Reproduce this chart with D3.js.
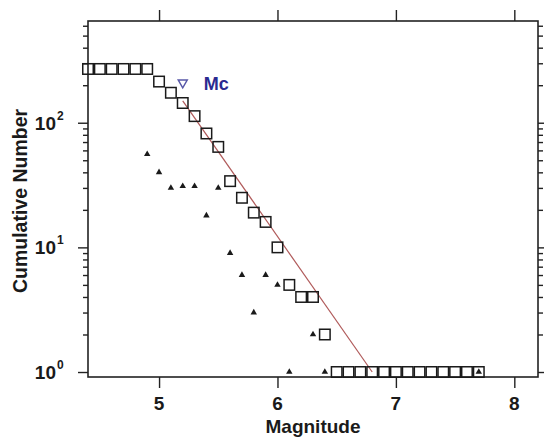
<!DOCTYPE html>
<head>
  <meta http-equiv="Content-Type" content="text/html; charset=utf-8">
  <style>
    body { margin: 0; background: #fff; }
    text { font-family: "Liberation Sans", Arial, sans-serif; fill: #1a1a1a; }
  </style>
</head>
<body></body>
<script src="https://d3js.org/d3.v7.min.js"></script>
<script>

var width = 544,
    height = 437;

// cumulative number of events (squares)
var cumMag = [4.4, 4.5, 4.6, 4.7, 4.8, 4.9, 5.0, 5.1, 5.2, 5.3, 5.4, 5.5, 5.6, 5.7, 5.8, 5.9,
              6.0, 6.1, 6.2, 6.3, 6.4, 6.5, 6.6, 6.7, 6.8, 6.9, 7.0, 7.1, 7.2, 7.3, 7.4, 7.5, 7.6, 7.7];
var cumN   = [270, 270, 270, 270, 270, 270, 214, 174, 144, 113, 82, 64, 34, 25, 19, 16,
              10, 5, 4, 4, 2, 1, 1, 1, 1, 1, 1, 1, 1, 1, 1, 1, 1, 1];

// events per magnitude bin (triangles)
var binMag = [4.9, 5.0, 5.1, 5.2, 5.3, 5.4, 5.5, 5.6, 5.7, 5.8, 5.9, 6.0, 6.1, 6.3, 6.4, 7.7];
var binN   = [56, 40, 30, 31, 31, 18, 30, 9, 6, 3, 6, 5, 1, 2, 1, 1];

// fitted G-R line end points and magnitude of completeness
var fitMag = [5.2, 6.8];
var fitN   = [150, 1];
var mcMag = 5.2,
    mcN = 210;

var xTicks = [5, 6, 7, 8];
var yMajor = [1, 10, 100];
var yMajorExp = ["0", "1", "2"];
var yMinor = [2, 3, 4, 5, 6, 7, 8, 9, 20, 30, 40, 50, 60, 70, 80, 90, 200, 300, 400, 500, 600];

var pLeft = 88, pRight = 538, pTop = 21, pBottom = 377;

var xs = d3.scaleLinear()
    .domain([4.4, 8.2])
    .range([pLeft, pRight]);
var ys = d3.scaleLog()
    .domain([0.912, 655])
    .range([pBottom, pTop]);

var svg = d3.select("body").append("svg")
    .attr("width", width)
    .attr("height", height);

// axes
function styleAxis(g) {
  g.select(".domain").remove();
  g.selectAll(".tick line").attr("stroke", "#222").attr("stroke-width", 1.4);
  g.selectAll(".tick text").remove();
}

svg.append("g").attr("transform", "translate(0," + pBottom + ")")
   .call(d3.axisBottom(xs).tickValues(xTicks).tickSize(11)).call(styleAxis);
svg.append("g").attr("transform", "translate(0," + pTop + ")")
   .call(d3.axisTop(xs).tickValues(xTicks).tickSize(11)).call(styleAxis);

svg.append("g").attr("transform", "translate(" + pLeft + ",0)")
   .call(d3.axisLeft(ys).tickValues(yMajor).tickSize(10)).call(styleAxis);
svg.append("g").attr("transform", "translate(" + pLeft + ",0)")
   .call(d3.axisLeft(ys).tickValues(yMinor).tickSize(5)).call(styleAxis);
svg.append("g").attr("transform", "translate(" + pRight + ",0)")
   .call(d3.axisRight(ys).tickValues(yMajor).tickSize(10)).call(styleAxis);
svg.append("g").attr("transform", "translate(" + pRight + ",0)")
   .call(d3.axisRight(ys).tickValues(yMinor).tickSize(5)).call(styleAxis);

svg.append("rect")
   .attr("x", pLeft).attr("y", pTop)
   .attr("width", pRight - pLeft).attr("height", pBottom - pTop)
   .attr("fill", "none").attr("stroke", "#222").attr("stroke-width", 1.6);

// tick labels
svg.selectAll(".xlab")
   .data(xTicks)
   .enter().append("text")
   .attr("class", "xlab")
   .attr("x", function(d){ return xs(d); })
   .attr("y", 410)
   .attr("text-anchor", "middle")
   .attr("font-size", 19)
   .attr("font-weight", "bold")
   .text(function(d){ return d; });

svg.selectAll(".ylab")
   .data(yMajor)
   .enter().append("text")
   .attr("class", "ylab")
   .attr("x", 56)
   .attr("y", function(d){ return ys(d) + 7; })
   .attr("text-anchor", "end")
   .attr("font-size", 19)
   .attr("font-weight", "bold")
   .text("10");
svg.selectAll(".yexp")
   .data(yMajor)
   .enter().append("text")
   .attr("class", "yexp")
   .attr("x", 57)
   .attr("y", function(d){ return ys(d) - 3; })
   .attr("font-size", 12)
   .attr("font-weight", "bold")
   .text(function(d, i){ return yMajorExp[i]; });

// axis titles
svg.append("text")
   .attr("x", (pLeft + pRight) / 2)
   .attr("y", 433)
   .attr("text-anchor", "middle")
   .attr("font-size", 19)
   .attr("font-weight", "bold")
   .text("Magnitude");
svg.append("text")
   .attr("transform", "translate(27," + ((pTop + pBottom) / 2 + 2) + ") rotate(-90)")
   .attr("text-anchor", "middle")
   .attr("font-size", 19.5)
   .attr("font-weight", "bold")
   .text("Cumulative Number");

// fit line
svg.append("line")
   .attr("x1", xs(fitMag[0])).attr("y1", ys(fitN[0]))
   .attr("x2", xs(fitMag[1])).attr("y2", ys(fitN[1]))
   .attr("stroke", "#b05a5a")
   .attr("stroke-width", 1.2);

// cumulative squares
var sq = 10.5;
svg.selectAll(".cum")
   .data(cumMag)
   .enter().append("rect")
   .attr("class", "cum")
   .attr("x", function(d){ return xs(d) - sq / 2; })
   .attr("y", function(d, i){ return ys(cumN[i]) - sq / 2; })
   .attr("width", sq).attr("height", sq)
   .attr("fill", "none")
   .attr("stroke", "#1a1a1a")
   .attr("stroke-width", 1.5);

// per-bin triangles
svg.selectAll(".bin")
   .data(binMag)
   .enter().append("path")
   .attr("class", "bin")
   .attr("d", d3.symbol().type(d3.symbolTriangle).size(18))
   .attr("transform", function(d, i){ return "translate(" + xs(d) + "," + ys(binN[i]) + ")"; })
   .attr("fill", "#1a1a1a");

// Mc marker
svg.append("path")
   .attr("d", d3.symbol().type(d3.symbolTriangle).size(36))
   .attr("transform", "translate(" + xs(mcMag) + "," + ys(mcN) + ") rotate(180)")
   .attr("fill", "none")
   .attr("stroke", "#5858a8")
   .attr("stroke-width", 1.4);
svg.append("text")
   .attr("x", xs(mcMag) + 21)
   .attr("y", ys(mcN) + 7)
   .attr("font-size", 18)
   .attr("font-weight", "bold")
   .style("fill", "#2a2a90")
   .text("Mc");

</script>
</html>
